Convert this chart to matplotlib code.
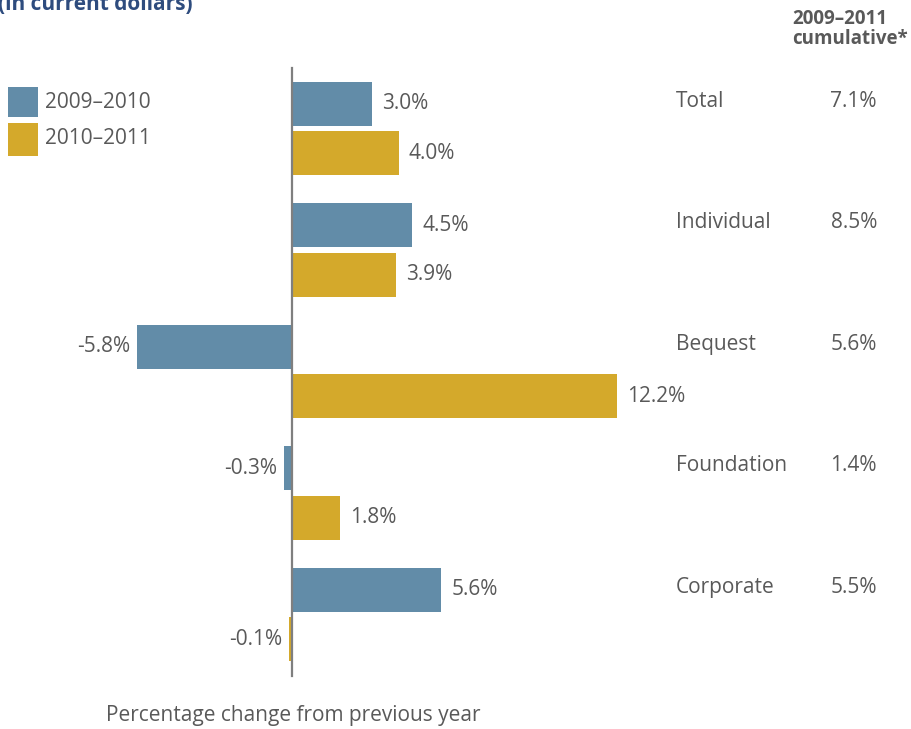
import matplotlib
matplotlib.use("Agg")
import matplotlib.pyplot as plt
from matplotlib.patches import Rectangle

plt.rcParams['font.family'] = ['Open Sans', 'DejaVu Sans']

# Data
categories = ["Total", "Individual", "Bequest", "Foundation", "Corporate"]
change_2009_2010 = [3.0, 4.5, -5.8, -0.3, 5.6]
change_2010_2011 = [4.0, 3.9, 12.2, 1.8, -0.1]
cumulative = ["7.1%", "8.5%", "5.6%", "1.4%", "5.5%"]
series_labels = ["2009\u20132010", "2010\u20132011"]

BLUE = "#628CA8"
GOLD = "#D4A92B"
TEXT = "#595959"

W, H, DPI = 912, 729, 100
fig = plt.figure(figsize=(W / DPI, H / DPI), dpi=DPI)
ax = fig.add_axes([0, 0, 1, 1])

# pixel-based mapping: zero line at x=292 px, 26.64 px per percentage point
PX_PER_UNIT = 26.64
ZERO_PX = 292
ax.set_xlim(-ZERO_PX / PX_PER_UNIT, (W - ZERO_PX) / PX_PER_UNIT)
GROUP_PX = 121.5
FIRST_PX = 128.5
ax.set_ylim((H - FIRST_PX) / GROUP_PX, -FIRST_PX / GROUP_PX)
ax.axis("off")

def px_x(p):
    return (p - ZERO_PX) / PX_PER_UNIT

def px_y(p):
    return (p - FIRST_PX) / GROUP_PX

bar_h = 0.362
off = 0.203
ys = list(range(len(categories)))
y1 = [y - off for y in ys]
y2 = [y + off for y in ys]
ax.barh(y1, change_2009_2010, height=bar_h, color=BLUE, zorder=2)
ax.barh(y2, change_2010_2011, height=bar_h, color=GOLD, zorder=2)

# zero line
ax.plot([0, 0], [px_y(68), px_y(676)], color="#7F7F7F", lw=1.6, zorder=3)

fs = 15
for yy, vals in ((y1, change_2009_2010), (y2, change_2010_2011)):
    for y, v in zip(yy, vals):
        if v >= 0:
            ax.annotate(f"{v:.1f}%", (v, y), xytext=(7.5, 0), textcoords="offset points",
                        ha="left", va="center", fontsize=fs, color=TEXT)
        else:
            ax.annotate(f"{v:.1f}%", (v, y), xytext=(-5, 0), textcoords="offset points",
                        ha="right", va="center", fontsize=fs, color=TEXT)

for y, cat, cum in zip(y1, categories, cumulative):
    ax.text(px_x(676), y - 0.02, cat, ha="left", va="center", fontsize=fs, color=TEXT)
    ax.text(px_x(877), y - 0.02, cum, ha="right", va="center", fontsize=fs, color=TEXT)

# column header
ax.text(px_x(792), px_y(29), "2009\u20132011\ncumulative*", ha="left", va="center",
        fontsize=13.5, fontweight="bold", color=TEXT, linespacing=1.05)

# legend
for (top, hgt, label, col) in ((87, 30, series_labels[0], BLUE), (123, 33, series_labels[1], GOLD)):
    ax.add_patch(Rectangle((px_x(8), px_y(top)), 30 / PX_PER_UNIT, hgt / GROUP_PX,
                           facecolor=col, edgecolor="none", clip_on=False))
    ax.text(px_x(45), px_y(top + 16), label, ha="left", va="center", fontsize=fs, color=TEXT)

# axis caption
ax.text(px_x(293), px_y(716), "Percentage change from previous year", ha="center",
        va="center", fontsize=fs, color=TEXT)

# title (partly above the visible area)
ax.text(px_x(-2), px_y(10), "(in current dollars)", ha="left", va="baseline",
        fontsize=15, fontweight="bold", color="#2E4C7E")

fig.savefig("out.png", dpi=DPI)
